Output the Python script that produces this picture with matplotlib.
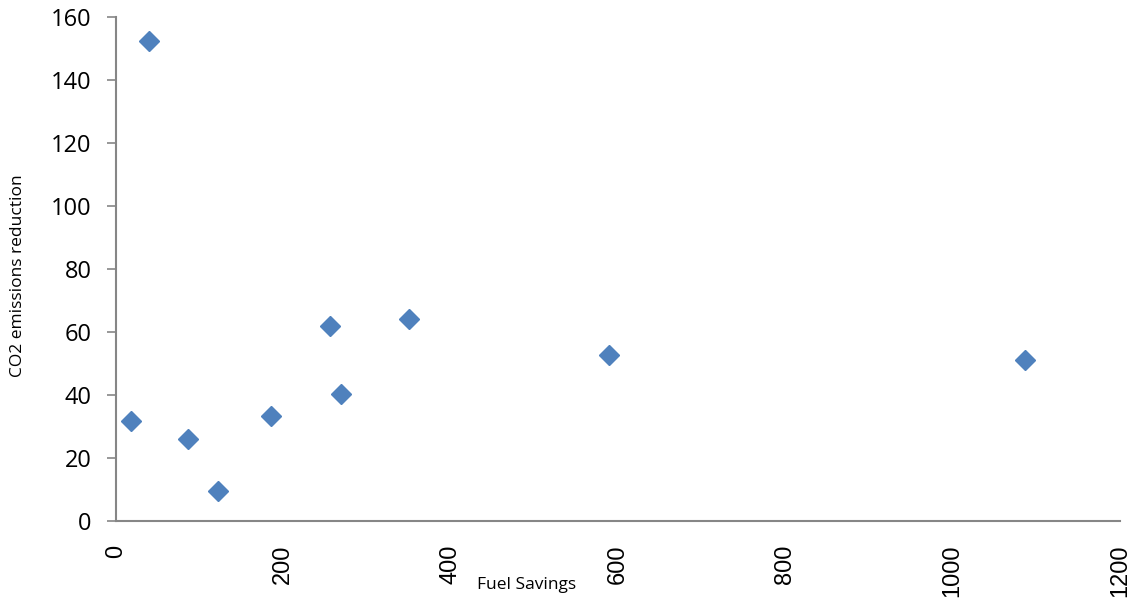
import matplotlib
matplotlib.use("Agg")
import matplotlib.pyplot as plt

fuel_savings = [18, 39, 86, 122, 185, 256, 269, 350, 589, 1086]
co2_reduction = [31.7, 152.4, 26.0, 9.5, 33.3, 61.9, 40.3, 64.1, 52.7, 51.1]
x_ticks = [0, 200, 400, 600, 800, 1000, 1200]
y_ticks = [0, 20, 40, 60, 80, 100, 120, 140, 160]

fig = plt.figure(figsize=(11.38, 6.04), dpi=100)
ax = fig.add_axes([116/1138, 1-521/604, (1120-116)/1138, (521-17)/604])

ax.plot(fuel_savings, co2_reduction, linestyle="none", marker="D",
        markersize=10, color="#4F81BD", markeredgecolor="#4F81BD")

ax.set_xlim(0, 1200)
ax.set_ylim(0, 160)
ax.set_xticks(x_ticks)
ax.set_yticks(y_ticks)
ax.set_xticklabels([str(v) for v in x_ticks], rotation=90, family="Liberation Sans", fontsize=17)
ax.set_yticklabels([str(v) for v in y_ticks], family="Open Sans", fontsize=17)

for s in ["top", "right"]:
    ax.spines[s].set_visible(False)
for s in ["left", "bottom"]:
    ax.spines[s].set_color("#868686")
    ax.spines[s].set_linewidth(1.5)

ax.tick_params(axis="y", direction="out", length=6.5, width=1.2, color="#868686", pad=11)
ax.tick_params(axis="x", length=0, pad=17)

fig.text(527/1138, 1-585/604, "Fuel Savings", ha="center", va="center",
         family="Open Sans", fontsize=12.5)
fig.text(18/1138, 1-276/604, "CO2 emissions reduction", ha="center", va="center",
         rotation=90, family="Open Sans", fontsize=12.5)

fig.savefig("out.png", dpi=100)
